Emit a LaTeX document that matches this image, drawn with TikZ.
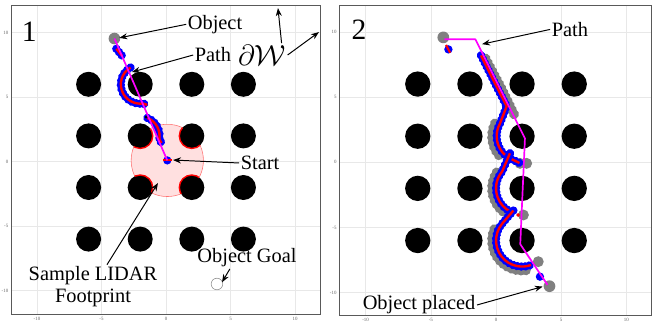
\documentclass[tikz,border=0pt]{standalone}
\usepackage{fontspec}
\setmainfont{Liberation Serif}
\usetikzlibrary{arrows.meta,positioning,decorations.markings}
\definecolor{pathmag}{RGB}{255,0,255}
\definecolor{trailred}{RGB}{255,0,0}
\definecolor{trailblue}{RGB}{0,0,255}
\definecolor{objgray}{RGB}{128,128,128}

\begin{document}
\begin{tikzpicture}[
  font=\fontsize{14.5}{16}\selectfont,
  lbl/.style={inner sep=1pt, align=center},
  numlbl/.style={inner sep=1pt, font=\fontsize{21}{22}\selectfont},
  arr/.style={
    -{Stealth[length=2mm,width=1.5mm]},
    line width=0.7pt,
  },
  obst/.style={fill=black},
  gridl/.style={black!9, line width=0.3pt},
  frm/.style={draw=black!65, line width=0.9pt},
  tick/.style={font=\fontsize{3.5}{4}\selectfont, text=black!60, inner sep=1pt},
  pathline/.style={pathmag, line width=1.2pt, line join=round},
  trail/.style={
    trailred, line width=1.7pt, line join=round,
    preaction={decorate, decoration={markings,
      mark=between positions 0 and 1 step 1.05mm with {\fill[trailblue] (0,0) circle (1.05mm);}}},
  },
  ghost/.style={
    decorate, decoration={markings,
      mark=between positions 0 and 1 step 1.2mm with {\fill[objgray] (0,0) circle (1.25mm);}},
  },
]
  \useasboundingbox (0,0) rectangle (16.4,8.075);

  % ---------------- panel 1: pushing plan with LIDAR footprint
  \begin{scope}[shift={(4.15cm,4.0325cm)}, x=0.3225cm, y=0.3225cm]
    \foreach \g in {-10,-5,0,5,10} {
      \draw[gridl] (\g,-11.85) -- (\g,12.1);
      \draw[gridl] (-12,\g) -- (12,\g);
      \node[tick, anchor=east]  (ya\g) at (-12.1,\g) {\g};
      \node[tick, anchor=north] (xa\g) at (\g,-11.95) {\g};
    }
    \draw[frm] (-12,-11.85) rectangle (12,12.1);

    % sample lidar footprint
    \fill[trailred!12] (0.1,0.1) circle (2.8);
    \draw[trailred!55, line width=0.4pt] (0.1,0.1) circle (2.8);
    \foreach \a in {-6,-2,2,6}
      \foreach \b in {-6,-2,2,6}
        \fill[obst] (\a,\b) circle (0.97);
    \begin{scope}
      \clip (0.1,0.1) circle (2.8);
      \foreach \a in {-2,2}
        \foreach \b in {-2,2}
          \draw[trailred, line width=1pt] (\a,\b) circle (0.97);
    \end{scope}

    % object and its goal
    \coordinate (obj1) at (-4,9.55);
    \fill[objgray] (obj1) circle (0.45);
    \coordinate (goal1) at (3.95,-9.48);
    \draw[black!45, line width=0.4pt] (goal1) circle (0.45);

    % robot trail
    \draw[trail] (-3.85,8.75) -- (-3.4,8.2);
    \draw[trail] (-2,6) ++(120:1.5) arc[start angle=120, end angle=278, radius=1.5] -- (-1.45,4.4);
    \draw[trail] (-2,2) ++(68:1.5) arc[start angle=68, end angle=-10, radius=1.5] -- (-0.35,1.45);
    \fill (-1.55,3.46) circle (0.12);
    \coordinate (start1) at (0.1,0.1);
    \fill[trailblue] (start1) circle (0.32);
    \draw[trailred, line width=1.5pt] (-0.2,0.1) -- (0.45,0.1);
    \draw[pathline] (obj1) -- (start1);

    % labels
    \node[numlbl] (num1) at (-10.6,10.05) {1};
    \node[lbl] (objlbl) at (3.8,10.65) {Object};
    \node[lbl] (pathlbl1) at (3.64,8.27) {Path};
    \node[lbl, font=\fontsize{20}{22}\selectfont] (dw) at (7.44,8.27) {$\partial\mathcal{W}$};
    \node[lbl] (startlbl) at (7.29,-0.1) {Start};
    \node[lbl] (lidar) at (-5.66,-9.7) {Sample LIDAR\\Footprint};
    \node[lbl] (goallbl) at (6.28,-7.47) {Object Goal};

    \coordinate (objtip) at (-3.62,9.6);
    \coordinate (pathtip1) at (-2.64,6.95);
    \coordinate (wtop) at (8.68,11.91);
    \coordinate (wright) at (11.86,10.05);
    \coordinate (starttip) at (0.54,0.13);
    \coordinate (lidartip) at (-0.62,-1.65);
    \coordinate (goaltip) at (4.34,-9.35);

    \draw[arr] (objlbl.west) -- (objtip);
    \draw[arr] (pathlbl1.west) -- (pathtip1);
    \draw[arr] ([xshift=-0.15cm]dw.north east) -- (wtop);
    \draw[arr] (dw.east) -- (wright);
    \draw[arr] (startlbl.west) -- (starttip);
    \draw[arr] ([xshift=0.35cm]lidar.north) -- (lidartip);
    \draw[arr] ([xshift=-0.43cm]goallbl.south) -- (goaltip);
  \end{scope}

  % ---------------- panel 2: executed push
  \begin{scope}[shift={(12.4cm,4.0175cm)}, x=0.326cm, y=0.326cm]
    \foreach \g in {-10,-5,0,5,10} {
      \draw[gridl] (\g,-11.75) -- (\g,12.05);
      \draw[gridl] (-12,\g) -- (11.9,\g);
      \node[tick, anchor=east]  (yb\g) at (-12.1,\g) {\g};
      \node[tick, anchor=north] (xb\g) at (\g,-11.85) {\g};
    }
    \draw[frm] (-12,-11.75) rectangle (11.9,12.05);

    \foreach \a in {-6,-2,2,6}
      \foreach \b in {-6,-2,2,6}
        \fill[obst] (\a,\b) circle (0.97);

    % object poses
    \coordinate (obj2) at (-4.04,9.58);
    \coordinate (placed) at (4.1,-9.5);
    \fill[objgray] (obj2) circle (0.45);
    \fill[objgray] (placed) circle (0.45);
    \path[ghost] (-0.8,7.95) -- (0.4,5.7) -- (1.4,3.65);
    \path[ghost] (2,2) ++(155:2.3) arc[start angle=155, end angle=228, radius=2.3];
    \path[ghost] (2,-2) ++(148:2.3) arc[start angle=148, end angle=232, radius=2.3];
    \path[ghost] (2,-6) ++(158:2.3) arc[start angle=158, end angle=283, radius=2.3];
    \foreach \p in {(1.84,-0.08),(2.35,-0.08),(2.1,-4.04),(3.24,-7.62)}
      \fill[objgray] \p circle (0.42);

    % robot trail
    \fill[trailblue] (-3.65,8.66) circle (0.32);
    \draw[trailred, line width=1.5pt] (-3.83,9.0) -- (-3.52,8.4);
    \draw[trail] (-1.15,8.2) -- (0.05,5.8) -- (0.82,4.3) -- (0.28,2.92)
      arc[start angle=152, end angle=250, radius=1.95] -- (1.8,-0.05);
    \draw[trail] (1.07,0.69) -- (0.47,-0.71)
      arc[start angle=140, end angle=245, radius=2] -- (1.33,-3.7);
    \draw[trail] (1.33,-3.7) -- (0.47,-4.71)
      arc[start angle=140, end angle=290, radius=2];
    \fill[trailred] (1.7,-4.04) circle (0.15);
    \fill[trailblue] (3.37,-8.77) circle (0.32);

    % planned object path
    \coordinate (bend1) at (-1.58,9.43);
    \draw[pathline] (-3.96,9.43) -- (bend1) -- (2.22,1.84) -- (1.86,-6.28) -- (3.95,-9.4);

    % labels
    \node[numlbl] (num2) at (-10.5,10.14) {2};
    \node[lbl] (pathlbl2) at (5.67,10.19) {Path};
    \node[lbl] (placedlbl) at (-5.9,-10.94) {Object placed};

    \coordinate (pathtip2) at (-1.07,9.06);
    \coordinate (placedtip) at (3.58,-9.53);
    \draw[arr] (pathlbl2.west) -- (pathtip2);
    \draw[arr] (placedlbl.east) -- (placedtip);
  \end{scope}
\end{tikzpicture}
\end{document}
